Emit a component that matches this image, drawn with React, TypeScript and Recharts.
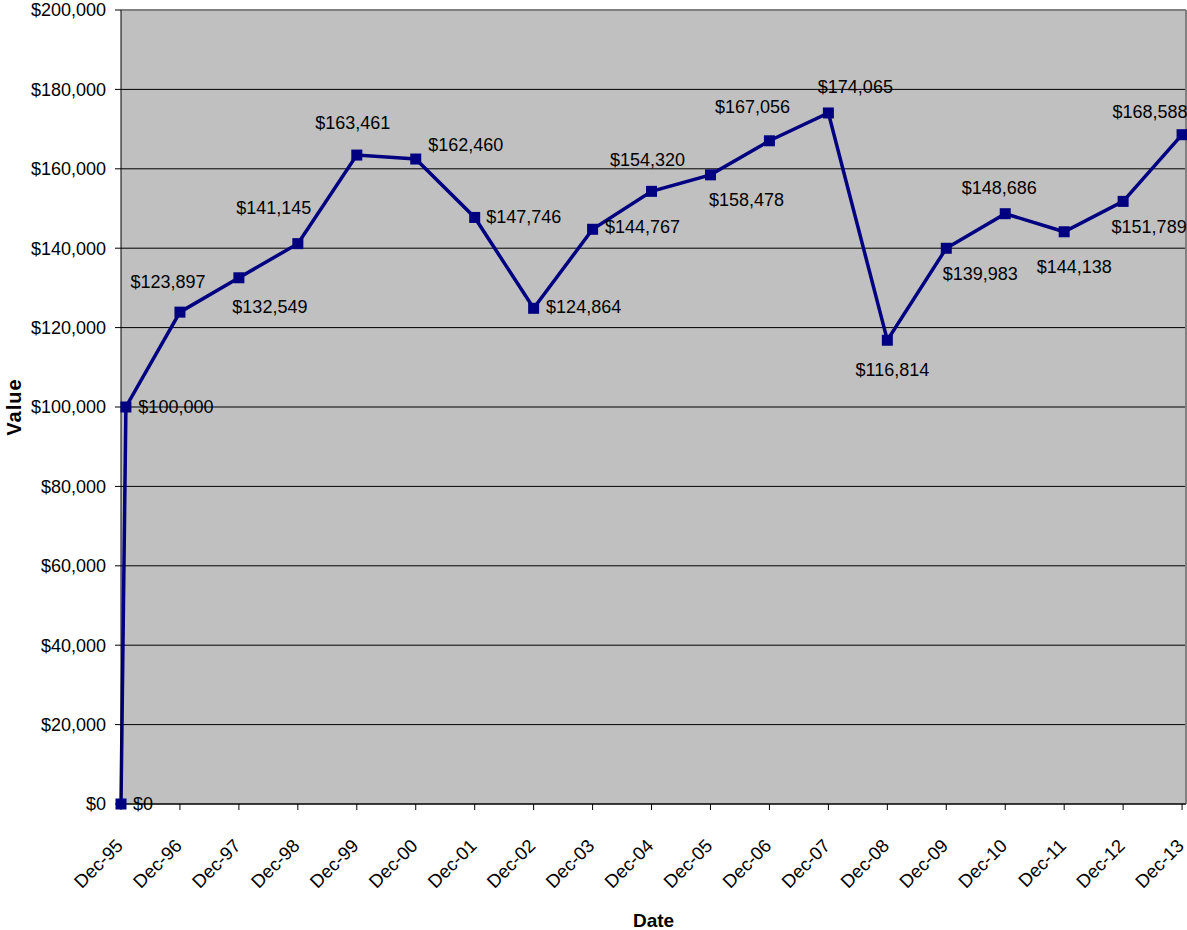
import React from "react";
import {
  CartesianGrid,
  LabelList,
  Line,
  LineChart,
  ReferenceLine,
  XAxis,
  YAxis,
} from "recharts";

// dates of each point (month-year) and the portfolio value on that date
const pointDates = [
  "Dec-95", "Jan-96", "Dec-96", "Dec-97", "Dec-98", "Dec-99", "Dec-00",
  "Dec-01", "Dec-02", "Dec-03", "Dec-04", "Dec-05", "Dec-06", "Dec-07",
  "Dec-08", "Dec-09", "Dec-10", "Dec-11", "Dec-12", "Dec-13",
];
const values = [
  0, 100000, 123897, 132549, 141145, 163461, 162460, 147746, 124864, 144767,
  154320, 158478, 167056, 174065, 116814, 139983, 148686, 144138, 151789,
  168588,
];
const xTickLabels = [
  "Dec-95", "Dec-96", "Dec-97", "Dec-98", "Dec-99", "Dec-00", "Dec-01",
  "Dec-02", "Dec-03", "Dec-04", "Dec-05", "Dec-06", "Dec-07", "Dec-08",
  "Dec-09", "Dec-10", "Dec-11", "Dec-12", "Dec-13",
];
const yTicks = [0, 20000, 40000, 60000, 80000, 100000, 120000, 140000, 160000, 180000, 200000];

// where each value label sits relative to its marker (centre offset, px)
const labelOffsets: [number, number][] = [
  [22, 0], [50, 0], [-12, -30], [31, 29], [-24, -36], [-4, -32], [50, -14],
  [49, 0], [50, -1], [50, -2], [-4, -31], [36, 25], [-17, -34], [27, -26],
  [5, 30], [34, 26], [-6, -26], [10, 35], [26, 26], [-32, -23],
];

const MONTHS = ["Jan", "Feb", "Mar", "Apr", "May", "Jun", "Jul", "Aug", "Sep", "Oct", "Nov", "Dec"];
const toMonthIndex = (d: string) => {
  const [m, yy] = d.split("-");
  const year = 1900 + Number(yy) + (Number(yy) < 50 ? 100 : 0);
  return (year - 1995) * 12 + MONTHS.indexOf(m) - 11;
};

const data = pointDates.map((d, i) => ({ t: toMonthIndex(d), value: values[i] }));
const xTicks = xTickLabels.map(toMonthIndex);
const X_MAX = 216.8;

const FONT = "'Liberation Sans', Arial, sans-serif";
const NAVY = "#000080";
const money = (v: number) => "$" + v.toLocaleString("en-US");

const DateTick = (props: any) => {
  const { x, y, payload } = props;
  const idx = xTicks.indexOf(payload.value);
  const ax = x + 3;
  const ay = y + 35;
  return (
    <text
      x={ax}
      y={ay}
      textAnchor="end"
      fontSize={18.5}
      fontFamily={FONT}
      fill="#000"
      transform={`rotate(-45, ${ax}, ${ay})`}
    >
      {xTickLabels[idx]}
    </text>
  );
};

const SquareDot = (props: any) => {
  const { cx, cy } = props;
  if (cx == null || cy == null) return null;
  return <rect x={cx - 5.5} y={cy - 5.5} width={11} height={11} fill={NAVY} />;
};

const ValueLabel = (props: any) => {
  const { x, y, value, index } = props;
  const [dx, dy] = labelOffsets[index] || [0, -25];
  return (
    <text
      x={x + dx}
      y={y + dy}
      textAnchor="middle"
      dominantBaseline="central"
      fontSize={18}
      fontFamily={FONT}
      fill="#000"
    >
      {money(value)}
    </text>
  );
};

const App = () => {
  return (
    <div style={{ position: "absolute", left: 0, top: 0 }}>
      <LineChart
        width={1187}
        height={930}
        data={data}
        margin={{ top: 10, right: 1, bottom: 0, left: 0 }}
      >
        <CartesianGrid
          vertical={false}
          stroke="#000"
          strokeWidth={1}
          fill="#C0C0C0"
          fillOpacity={1}
        />
        <XAxis
          type="number"
          dataKey="t"
          domain={[0, X_MAX]}
          ticks={xTicks}
          interval={0}
          height={126}
          tickSize={6}
          stroke="#000"
          tick={<DateTick />}
          label={{
            content: (p: any) => {
              const vb = p.viewBox;
              return (
                <text
                  x={vb.x + vb.width / 2}
                  y={927}
                  textAnchor="middle"
                  fontSize={19}
                  fontWeight="bold"
                  fontFamily={FONT}
                  fill="#000"
                >
                  Date
                </text>
              );
            },
          }}
        />
        <YAxis
          type="number"
          domain={[0, 200000]}
          ticks={yTicks}
          interval={0}
          width={121}
          tickSize={6}
          tickMargin={9}
          stroke="#000"
          tickFormatter={money}
          tick={{ fill: "#000", fontSize: 18, fontFamily: FONT }}
          label={{
            content: (p: any) => {
              const vb = p.viewBox;
              const cy = vb.y + vb.height / 2;
              return (
                <text
                  x={21}
                  y={cy}
                  textAnchor="middle"
                  fontSize={20}
                  fontWeight="bold"
                  fontFamily={FONT}
                  letterSpacing={1}
                  fill="#000"
                  transform={`rotate(-90, 21, ${cy})`}
                >
                  Value
                </text>
              );
            },
          }}
        />
        <ReferenceLine y={200000} stroke="#808080" strokeWidth={2} />
        <ReferenceLine x={X_MAX} stroke="#808080" strokeWidth={2} />
        <Line
          type="linear"
          dataKey="value"
          stroke={NAVY}
          strokeWidth={3.5}
          dot={<SquareDot />}
          activeDot={false}
          isAnimationActive={false}
        >
          <LabelList dataKey="value" content={<ValueLabel />} />
        </Line>
      </LineChart>
    </div>
  );
};

export default App;
